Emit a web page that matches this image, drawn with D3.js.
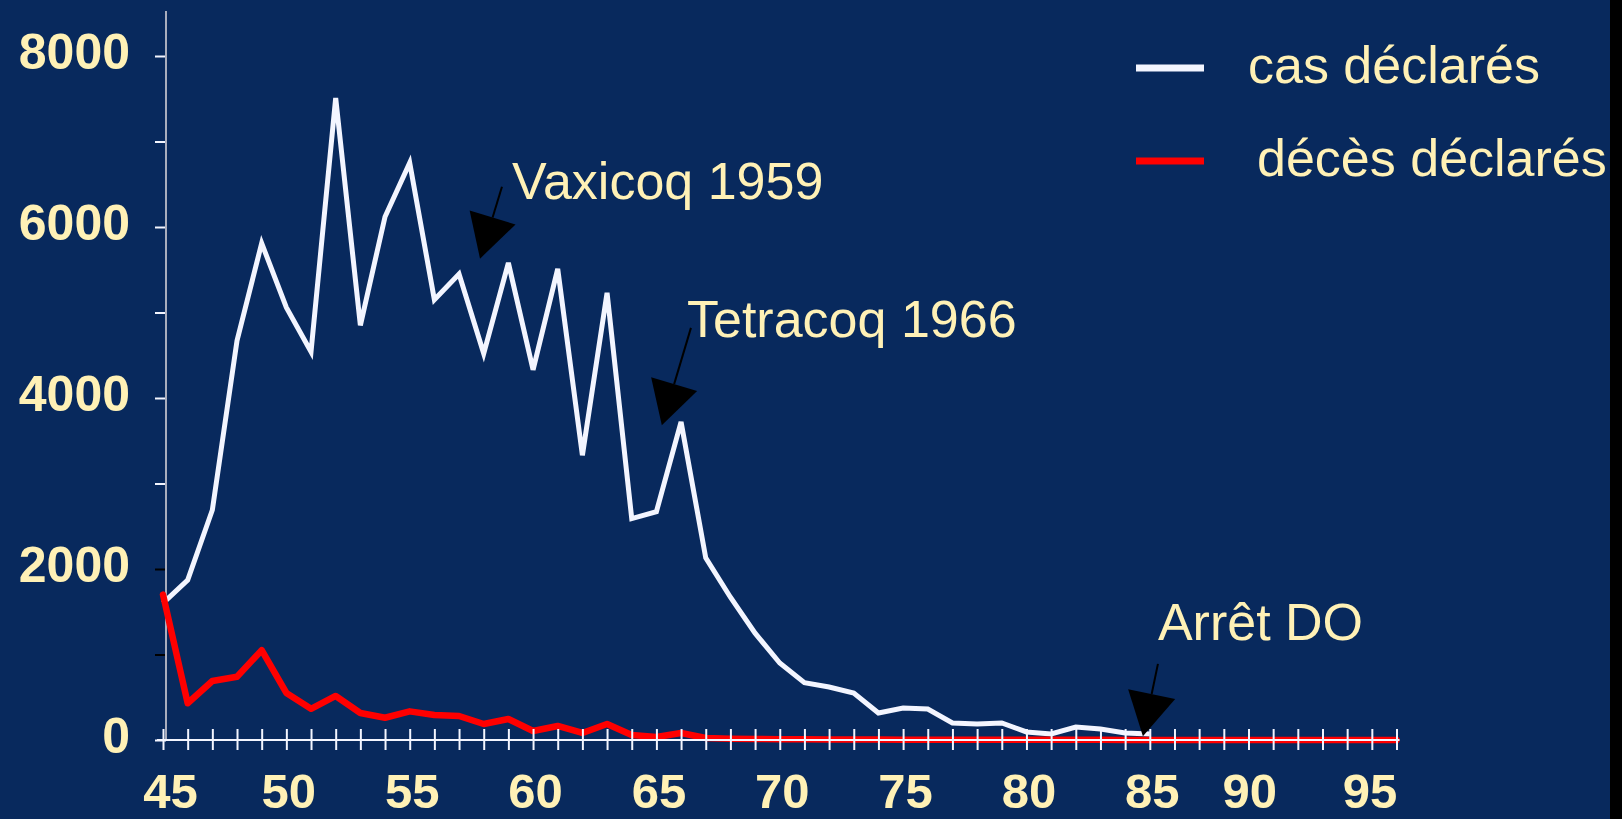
<!DOCTYPE html>
<html>
<head>
<meta charset="utf-8">
<script src="https://cdn.jsdelivr.net/npm/d3@7"></script>
<style>
  html, body { margin: 0; padding: 0; background: #000; }
  svg { display: block; }
</style>
</head>
<body>
<svg width="1622" height="819"></svg>
<script>
// years on the x axis (19xx)
const years = d3.range(45, 96);
const xLabels = [45, 50, 55, 60, 65, 70, 75, 80, 85, 90, 95];
const yTicks = [0, 1000, 2000, 3000, 4000, 5000, 6000, 7000, 8000];
const yLabels = [0, 2000, 4000, 6000, 8000];

// cas déclarés, 1945 - 1985
const casYears = d3.range(45, 86);
const casValues = [
  1600, 1870, 2690, 4670, 5810, 5060, 4540, 7510, 4850, 6120,
  6750, 5150, 5450, 4520, 5580, 4330, 5510, 3330, 5230, 2590,
  2670, 3720, 2130, 1670, 1250, 900, 670, 620, 550, 316,
  374, 362, 199, 187, 199, 94, 70, 152, 129, 82,
  70,
];

// décès déclarés, 1945 - 1995
const decesYears = d3.range(45, 96);
const decesValues = [
  1700, 430, 690, 740, 1050, 550, 365, 515, 316, 260,
  335, 292, 281, 187, 246, 105, 164, 82, 187, 58,
  35, 82, 23, 15, 12, 10, 8, 6, 5, 5,
  4, 4, 3, 3, 3, 2, 2, 2, 2, 1,
  1, 1, 1, 1, 1, 0, 0, 0, 0, 0,
  0,
];

const seriesNames = ["cas déclarés", "décès déclarés"];
const seriesColors = ["#f3f5ff", "#ff0000"];

// annotations: text anchor, arrow tail and arrow tip in data units
const annotations = [
  { label: "Vaxicoq 1959", textYear: 59.15, textValue: 6330, tailYear: 58.74, tailValue: 6470, tipYear: 57.85, tipValue: 5630 },
  { label: "Tetracoq 1966", textYear: 66.24, textValue: 4710, tailYear: 66.4, tailValue: 4820, tipYear: 65.22, tipValue: 3680 },
  { label: "Arrêt DO", textYear: 85.33, textValue: 1170, tailYear: 85.33, tailValue: 890, tipYear: 84.72, tipValue: 45 },
];
// the original slide places the last two year labels a bit to the left
const labelNudge = { 90: -24, 95: -27 };

const svg = d3.select("svg");
const textColor = "#fff1b6";
const font = "'Liberation Sans', Arial, sans-serif";

svg.append("rect").attr("width", 1610).attr("height", 819).attr("fill", "#08295d");

const x = d3.scaleLinear().domain([45, 95]).range([163, 1396.5]);
const y = d3.scaleLinear().domain([0, 8000]).range([740, 56]);

// y axis
const yAxis = svg
  .append("g")
  .attr("transform", "translate(166,0)")
  .call(
    d3
      .axisLeft(y)
      .tickValues(yTicks)
      .tickSize(11)
      .tickPadding(25)
      .tickFormat((d) => (yLabels.includes(d) ? d : ""))
  );
yAxis.select(".domain").remove();
yAxis
  .append("line")
  .attr("y1", 11)
  .attr("y2", y(0))
  .attr("stroke", "#a9adbd")
  .attr("stroke-width", 2);
yAxis
  .selectAll(".tick line")
  .attr("stroke", (d) => (d === 1000 || d === 2000 ? "#000" : "#f3f5ff"))
  .attr("stroke-width", 2);
yAxis
  .selectAll(".tick text")
  .attr("fill", textColor)
  .attr("font-family", font)
  .attr("font-weight", "bold")
  .attr("font-size", 50)
  .attr("dy", "0.24em");

// lines
const line = (xs) =>
  d3
    .line()
    .x((d, i) => x(xs[i]))
    .y((d) => y(d));

svg
  .append("path")
  .datum(casValues)
  .attr("d", line(casYears))
  .attr("fill", "none")
  .attr("stroke", seriesColors[0])
  .attr("stroke-width", 5)
  .attr("stroke-linejoin", "miter");

svg
  .append("path")
  .datum(decesValues)
  .attr("d", line(decesYears))
  .attr("fill", "none")
  .attr("stroke", seriesColors[1])
  .attr("stroke-width", 6.5)
  .attr("stroke-linejoin", "round")
  .attr("stroke-linecap", "round");

// x axis
const xAxis = svg
  .append("g")
  .attr("transform", "translate(0," + y(0) + ")")
  .call(
    d3
      .axisBottom(x)
      .tickValues(years)
      .tickSize(10)
      .tickFormat((d) => (xLabels.includes(d) ? d : ""))
  );
xAxis.select(".domain").remove();
xAxis
  .append("line")
  .attr("x1", x(45) - 6)
  .attr("x2", x(95) + 3)
  .attr("stroke", "#f3f5ff")
  .attr("stroke-width", 2);
xAxis.selectAll(".tick line").attr("y1", -11).attr("y2", 10).attr("stroke", "#f3f5ff").attr("stroke-width", 2);
xAxis
  .selectAll(".tick text")
  .attr("y", 68)
  .attr("dy", 0)
  .attr("x", (d) => (d === 45 ? 7 : labelNudge[d] || 2))
  .attr("fill", textColor)
  .attr("font-family", font)
  .attr("font-weight", "bold")
  .attr("font-size", 49);

// annotations with black arrows
annotations.forEach((a) => {
  const tx = x(a.tailYear), ty = y(a.tailValue);
  const px = x(a.tipYear), py = y(a.tipValue);
  const len = Math.hypot(px - tx, py - ty);
  const ux = (px - tx) / len, uy = (py - ty) / len;
  const bx = px - ux * 43, by = py - uy * 43;
  svg
    .append("line")
    .attr("x1", tx).attr("y1", ty)
    .attr("x2", bx).attr("y2", by)
    .attr("stroke", "#000")
    .attr("stroke-width", 2);
  svg
    .append("path")
    .attr("d", d3.line()([[px, py], [bx - uy * 24, by + ux * 24], [bx + uy * 24, by - ux * 24]]) + "Z")
    .attr("fill", "#000");
  svg
    .append("text")
    .attr("x", x(a.textYear))
    .attr("y", y(a.textValue))
    .attr("fill", textColor)
    .attr("font-family", font)
    .attr("font-size", 52)
    .text(a.label);
});

// legend
const legend = svg.append("g");
[68, 161].forEach((ly, i) => {
  legend
    .append("line")
    .attr("x1", 1136).attr("x2", 1204)
    .attr("y1", ly).attr("y2", ly)
    .attr("stroke", seriesColors[i])
    .attr("stroke-width", 7);
  legend
    .append("text")
    .attr("x", i === 0 ? 1248 : 1257)
    .attr("y", ly + 15)
    .attr("fill", textColor)
    .attr("font-family", font)
    .attr("font-size", 52)
    .text(seriesNames[i]);
});
</script>
</body>
</html>
